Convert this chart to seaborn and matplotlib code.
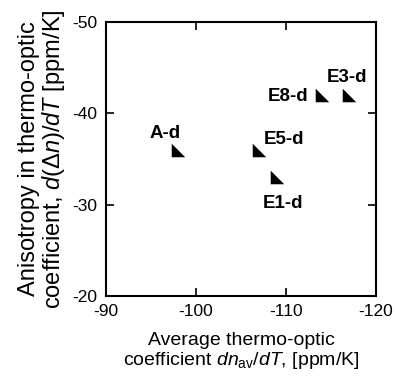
import matplotlib
matplotlib.use("Agg")
import matplotlib.pyplot as plt
import seaborn as sns
import pandas as pd
from matplotlib.path import Path

samples = ["A-d", "E5-d", "E1-d", "E8-d", "E3-d"]
avg_tc = [-98, -107, -109, -114, -117]
aniso_tc = [-36, -36, -33, -42, -42]
xticks = [-90, -100, -110, -120]
yticks = [-20, -30, -40, -50]

df = pd.DataFrame({"sample": samples, "avg": avg_tc, "aniso": aniso_tc})

sns.set_style("ticks")
plt.rcParams["font.family"] = ["Liberation Sans", "DejaVu Sans"]
plt.rcParams["mathtext.fontset"] = "custom"
plt.rcParams["mathtext.rm"] = "Liberation Sans"
plt.rcParams["mathtext.it"] = "Liberation Sans:italic"
for k in ["text.color", "axes.labelcolor", "xtick.color", "ytick.color", "axes.edgecolor"]:
    plt.rcParams[k] = "black"

fig = plt.figure(figsize=(3.95, 3.79), dpi=100)
ax = fig.add_axes([0.268, 0.219, 0.684, 0.723])

tri = Path([(-1, -1), (1, -1), (-1, 1), (-1, -1)],
           [Path.MOVETO, Path.LINETO, Path.LINETO, Path.CLOSEPOLY])
sns.scatterplot(data=df, x="avg", y="aniso", marker=tri, s=95,
                color="black", edgecolor="black", linewidth=0, ax=ax, legend=False)

offsets = {"A-d": (-9, 8.6, "center"),
           "E5-d": (3.2, 4.1, "left"),
           "E1-d": (4, -21.9, "center"),
           "E8-d": (-9.7, -4.2, "right"),
           "E3-d": (-1.3, 9.4, "center")}
for s, x, y in zip(samples, avg_tc, aniso_tc):
    dx, dy, ha = offsets[s]
    ax.annotate(s, (x, y), xytext=(dx, dy), textcoords="offset points",
                ha=ha, va="baseline", fontsize=13.5, fontweight="bold")

ax.set_xlim(-90, -120)
ax.set_ylim(-20, -50)
ax.set_xticks(xticks)
ax.set_yticks(yticks)
ax.set_xticklabels([str(v) for v in xticks])
ax.set_yticklabels([str(v) for v in yticks])
ax.tick_params(direction="in", top=True, right=True, length=6, width=1.2,
               labelsize=12.5, pad=6)
for sp in ax.spines.values():
    sp.set_linewidth(1.5)
    sp.set_color("black")

ax.set_xlabel("Average thermo-optic\ncoefficient $dn_{\\rm av}/dT$, [ppm/K]",
              fontsize=14, labelpad=9, linespacing=1.05)
ax.set_ylabel("Anisotropy in thermo-optic\ncoefficient, $d(\\Delta n)/dT$ [ppm/K]",
              fontsize=17, labelpad=4, linespacing=1.0)

fig.savefig("out.png", dpi=100)
